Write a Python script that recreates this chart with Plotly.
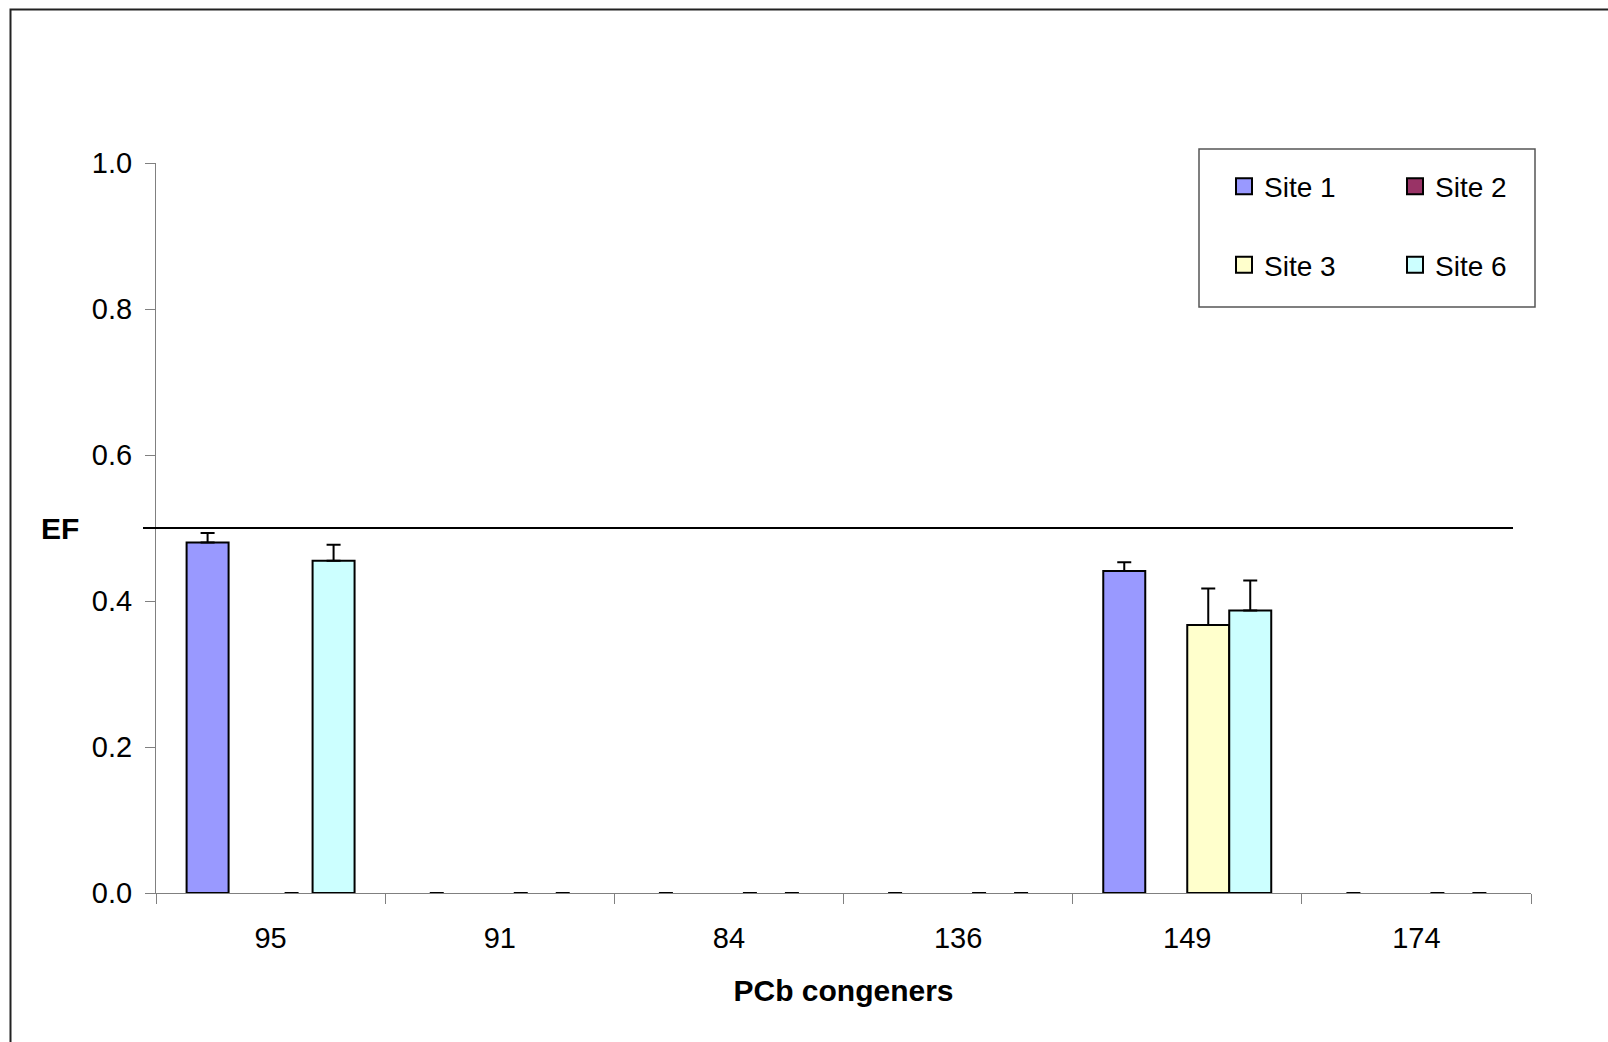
import plotly.graph_objects as go

# ---- data ----
categories = ["95", "91", "84", "136", "149", "174"]
site1 = [0.480, 0, 0, 0, 0.441, 0]
site1_err = [0.013, 0, 0, 0, 0.012, 0]
site2 = [None, None, None, None, None, None]
site2_err = [0, 0, 0, 0, 0, 0]
site3 = [0, 0, 0, 0, 0.367, 0]
site3_err = [0, 0, 0, 0, 0.050, 0]
site6 = [0.455, 0, 0, 0, 0.387, 0]
site6_err = [0.022, 0, 0, 0, 0.041, 0]
series_names = ["Site 1", "Site 2", "Site 3", "Site 6"]
reference_level = 0.5

# ---- layout geometry (pixels) ----
W, H = 1608, 1042
L, R, T, B = 156, 1531, 163, 893


def px(x):
    return (x - L) / (R - L)


def py(y):
    return (B - y) / (B - T)


FONT = "Arial, Liberation Sans, sans-serif"
colors = ["#9999FF", "#993366", "#FFFFCC", "#CCFFFF"]
values = [site1, site2, site3, site6]
errs = [site1_err, site2_err, site3_err, site6_err]
legend_ids = ["legend", "legend", "legend2", "legend2"]

fig = go.Figure()
for name, v, e, c in zip(series_names, values, errs, colors):
    # zero-height bars show no outline (only their error cap), as in the original
    outline_w = [2 if (val is not None and val != 0) else 0 for val in v]
    fig.add_trace(go.Bar(
        x=categories, y=v, name=name, showlegend=False,
        marker=dict(color=c, line=dict(color="black", width=outline_w)),
        error_y=dict(type="data", array=e, arrayminus=[0] * len(e), symmetric=False,
                     color="black", thickness=2, width=7),
        cliponaxis=False,
    ))

# legend entries (square swatches with black outline)
for name, c, lg in zip(series_names, colors, legend_ids):
    fig.add_trace(go.Scatter(
        x=[None], y=[None], name=name, mode="markers", legend=lg,
        marker=dict(symbol="square", size=16, color=c, line=dict(color="black", width=2)),
    ))

shapes = [
    # outer chart border
    dict(type="rect", xref="paper", yref="paper", x0=px(10.5), x1=px(1700),
         y0=py(1100), y1=py(9.5), line=dict(color="#222222", width=2), layer="below"),
    # legend box
    dict(type="rect", xref="paper", yref="paper", x0=px(1199), x1=px(1535),
         y0=py(307), y1=py(149), line=dict(color="#555555", width=1.5), layer="below"),
    # reference line at EF = 0.5
    dict(type="line", xref="paper", yref="y", x0=px(143), x1=px(1513),
         y0=reference_level, y1=reference_level, line=dict(color="black", width=2), layer="above"),
]

leg_common = dict(orientation="h", xanchor="left", yanchor="middle",
                  font=dict(family=FONT, size=28, color="black"),
                  bgcolor="rgba(0,0,0,0)", borderwidth=0, itemsizing="trace",
                  entrywidth=126, entrywidthmode="pixels")

fig.update_layout(
    width=W, height=H,
    margin=dict(l=L, r=W - R, t=T, b=H - B, pad=0),
    paper_bgcolor="white", plot_bgcolor="white",
    barmode="group", bargap=0.267, bargroupgap=0,
    font=dict(family=FONT, size=28, color="black"),
    showlegend=True,
    legend=dict(x=px(1224), y=py(186.5), **leg_common),
    legend2=dict(x=px(1224), y=py(265), **leg_common),
    shapes=shapes,
    annotations=[dict(text="<b>EF</b>", xref="paper", yref="y", x=px(60), y=reference_level,
                      xanchor="center", yanchor="middle", showarrow=False,
                      font=dict(family=FONT, size=30, color="black"))],
    xaxis=dict(
        type="category", showline=True, linecolor="#808080", linewidth=1,
        ticks="outside", tickson="boundaries", ticklen=10, tickcolor="#808080", tickwidth=1,
        showgrid=False, zeroline=False, layer="below traces",
        tickfont=dict(family=FONT, size=29, color="black"), ticklabelstandoff=19,
        title=dict(text="<b>PCb congeners</b>", font=dict(family=FONT, size=30, color="black"),
                   standoff=27),
    ),
    yaxis=dict(
        range=[0, 1], dtick=0.2, tickformat=".1f", showline=True, linecolor="#808080",
        linewidth=1, ticks="outside", ticklen=10, tickcolor="#808080", tickwidth=1,
        showgrid=False, zeroline=False, layer="below traces",
        tickfont=dict(family=FONT, size=29, color="black"), ticklabelstandoff=7,
    ),
)

fig.write_html("out.html", config={"displayModeBar": False},
               post_script="document.body.style.margin='0px';")
